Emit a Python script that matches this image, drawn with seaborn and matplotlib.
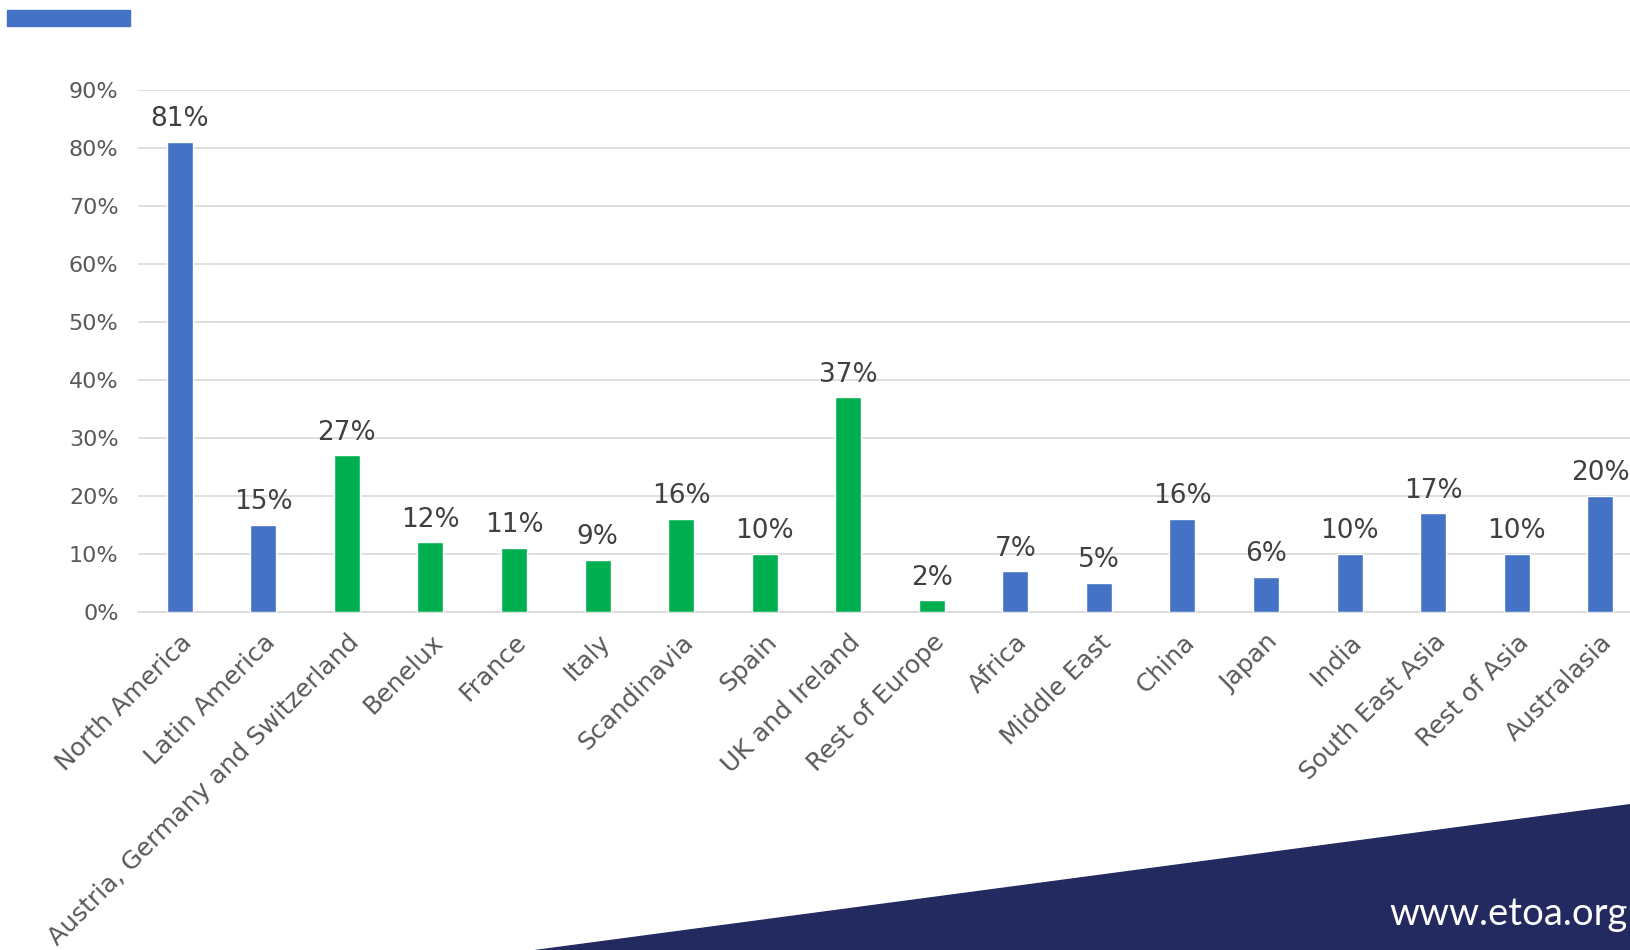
import matplotlib
matplotlib.use("Agg")
import matplotlib.pyplot as plt
import matplotlib.patches as mpatches
import seaborn as sns
import pandas as pd

categories = ["North America", "Latin America", "Austria, Germany and Switzerland",
              "Benelux", "France", "Italy", "Scandinavia", "Spain", "UK and Ireland",
              "Rest of Europe", "Africa", "Middle East", "China", "Japan", "India",
              "South East Asia", "Rest of Asia", "Australasia"]
values = [81, 15, 27, 12, 11, 9, 16, 10, 37, 2, 7, 5, 16, 6, 10, 17, 10, 20]
groups = ["Other", "Other", "Europe", "Europe", "Europe", "Europe", "Europe", "Europe",
          "Europe", "Europe", "Other", "Other", "Other", "Other", "Other", "Other",
          "Other", "Other"]
y_ticks = [0, 10, 20, 30, 40, 50, 60, 70, 80, 90]

BLUE = "#4472C4"
GREEN = "#00B050"
NAVY = "#222A5F"
GRAY = "#595959"
FONT = ["DejaVu Sans"]

df = pd.DataFrame({"Region": categories, "Share": values, "Group": groups})

sns.set_theme(style="white")
plt.rcParams["font.family"] = FONT
plt.rcParams["font.sans-serif"] = FONT

fig = plt.figure(figsize=(16.31, 9.5), dpi=100)
ax = fig.add_axes([138 / 1631, 338 / 950, (1642 - 138) / 1631, 522 / 950])

sns.barplot(data=df, x="Region", y="Share", hue="Group", dodge=False,
            palette={"Other": BLUE, "Europe": GREEN}, width=0.31, saturation=1,
            legend=False, ax=ax, zorder=3)

for cont in ax.containers:
    ax.bar_label(cont, labels=[f"{v:.0f}%" for v in cont.datavalues],
                 padding=7, fontsize=19, color="#404040", family=FONT)

ax.set_ylim(0, 90)
ax.set_yticks(y_ticks)
ax.set_yticklabels([f"{t}%" for t in y_ticks], fontsize=16, color=GRAY, family=FONT)
ax.set_xlim(-0.5, len(categories) - 0.5)
ax.yaxis.grid(True, color="#D9D9D9", linewidth=1.2, zorder=0)
ax.set_axisbelow(True)
for s in ["top", "right", "left"]:
    ax.spines[s].set_visible(False)
ax.spines["bottom"].set_color("#D9D9D9")
ax.spines["bottom"].set_linewidth(1.2)
ax.tick_params(axis="y", length=0, pad=14)
ax.tick_params(axis="x", length=0, pad=13)
ax.set_xticks(range(len(categories)))
ax.set_xticklabels(categories, rotation=45, ha="right", rotation_mode="anchor",
                   fontsize=18, color=GRAY, family=FONT)
ax.set_xlabel("")
ax.set_ylabel("")

# decorative elements
fig.patches.append(mpatches.Rectangle((7 / 1631, 1 - 26 / 950), 123 / 1631, 16 / 950,
                                      transform=fig.transFigure, color=BLUE, zorder=5))
fig.patches.append(mpatches.Polygon([(535 / 1631, 0), (1, 0), (1, 1 - 804 / 950)],
                                    closed=True, transform=fig.transFigure,
                                    color=NAVY, zorder=5))
fig.text(1628 / 1631, 1 - 925 / 950, "www.etoa.org", ha="right", va="baseline",
         color="white", fontsize=27.5, family=["Lato", "DejaVu Sans"], zorder=6)

fig.savefig("out.png", dpi=100)
